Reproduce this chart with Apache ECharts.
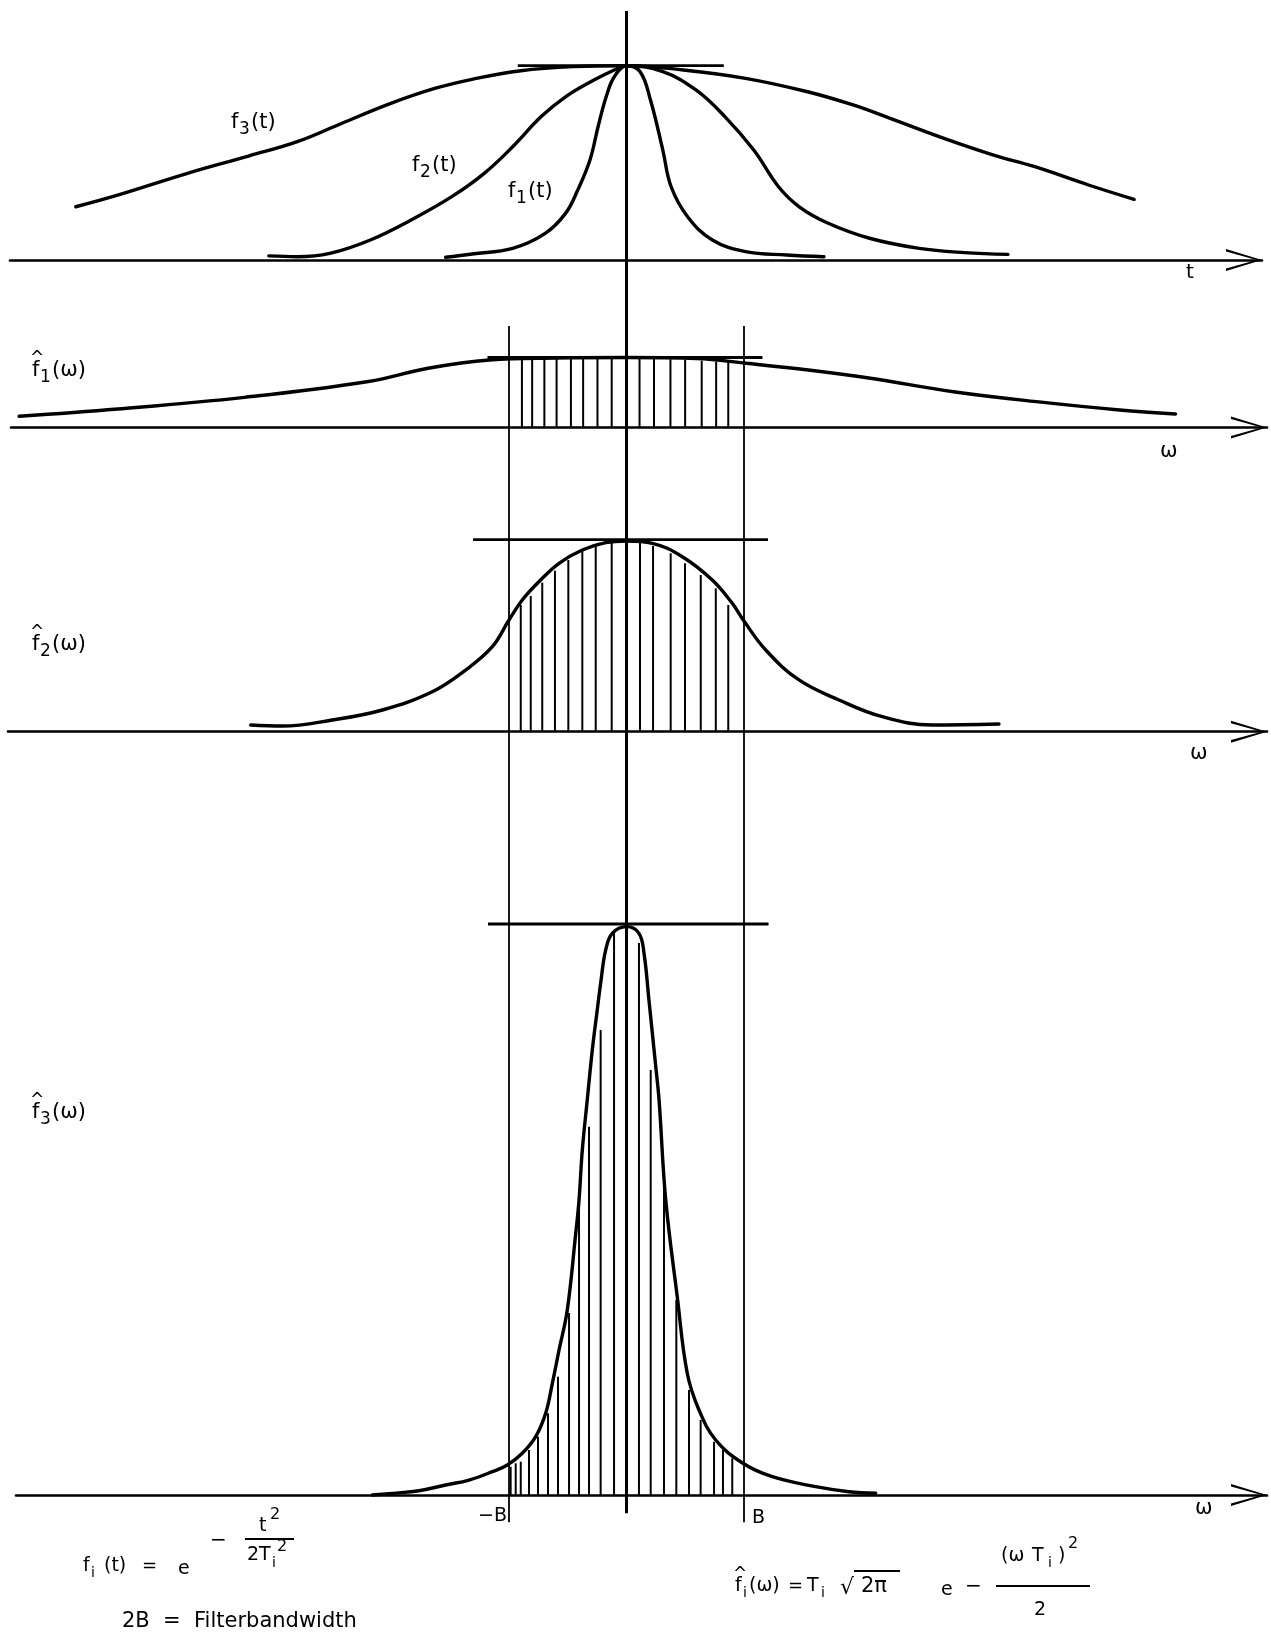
<!DOCTYPE html>
<html>
<head>
<meta charset="utf-8">
<script src="https://cdn.jsdelivr.net/npm/echarts@6/dist/echarts.min.js"></script>
<style>
  html, body { margin: 0; padding: 0; background: #ffffff; }
  #chart { width: 1271px; height: 1635px; }
</style>
</head>
<body>
<div id="chart"></div>
<script>
// ---------------------------------------------------------------
// Gaussian pulses f_i(t) (peak normalised to 1) and their spectra
// f^_i(w) = T_i*sqrt(2*pi)*exp(-(w*T_i)^2/2), x in units of B.
// ---------------------------------------------------------------

// time-domain pulses [t, f(t)]
const f1t = [[-1.539,0.014],[-1.314,0.031],[-0.969,0.060],[-0.692,0.137],[-0.519,0.240],[-0.415,0.360],
  [-0.311,0.515],[-0.242,0.686],[-0.173,0.840],[-0.104,0.943],[0,1.0],[0.116,0.969],[0.204,0.823],
  [0.309,0.566],[0.380,0.377],[0.520,0.223],[0.731,0.103],[1.013,0.043],[1.364,0.026],[1.681,0.017]];
const f2t = [[-3.044,0.021],[-2.802,0.017],[-2.525,0.034],[-2.180,0.103],[-1.833,0.206],[-1.487,0.326],
  [-1.211,0.446],[-0.969,0.583],[-0.726,0.738],[-0.519,0.840],[-0.277,0.926],[-0.104,0.978],[0,1.0],
  [0.309,0.969],[0.591,0.875],[0.837,0.738],[1.083,0.566],[1.294,0.377],[1.470,0.274],[1.717,0.189],
  [2.068,0.112],[2.491,0.060],[2.877,0.038],[3.246,0.029]];
const f3t = [[-4.687,0.274],[-4.324,0.335],[-3.736,0.446],[-3.217,0.535],[-2.802,0.609],[-2.421,0.704],
  [-2.006,0.806],[-1.625,0.884],[-1.314,0.930],[-0.899,0.974],[-0.450,0.995],[0,1.0],[0.483,0.978],
  [1.013,0.935],[1.541,0.866],[1.928,0.798],[2.244,0.729],[2.702,0.626],[3.124,0.540],[3.475,0.480],
  [3.932,0.386],[4.320,0.312]];

// spectra [w, f^(w)], amplitude in units of the f^_1 peak
const f1w = [[-5.169,0.160],[-4.329,0.264],[-3.252,0.431],[-2.210,0.654],[-1.689,0.846],[-1.168,0.964],
  [-0.600,0.993],[0,1.0],[0.600,0.985],[1.017,0.917],[1.547,0.821],[2.077,0.703],[2.783,0.511],
  [3.489,0.369],[4.196,0.250],[4.672,0.193]];
const f2w = [[-3.198,0.096],[-2.929,0.081],[-2.504,0.167],[-2.078,0.310],[-1.653,0.571],[-1.369,0.881],
  [-1.142,1.214],[-1.000,1.596],[-0.887,1.881],[-0.745,2.143],[-0.574,2.406],[-0.376,2.596],[-0.177,2.700],
  [0,2.724],[0.220,2.691],[0.475,2.500],[0.730,2.167],[0.900,1.834],[0.994,1.596],[1.185,1.167],
  [1.468,0.739],[1.809,0.453],[2.177,0.214],[2.603,0.096],[3.170,0.110]];
const f3w = [[-2.163,0.0],[-1.993,0.024],[-1.766,0.061],[-1.539,0.143],[-1.340,0.214],[-1.142,0.333],
  [-1.014,0.429],[-0.887,0.596],[-0.773,0.833],[-0.688,1.167],[-0.631,1.596],[-0.574,2.071],[-0.504,2.643],
  [-0.432,3.739],[-0.404,4.214],[-0.376,4.929],[-0.334,5.643],[-0.291,6.357],[-0.249,6.929],[-0.220,7.310],
  [-0.177,7.786],[-0.121,8.024],[0,8.119],[0.106,8.024],[0.149,7.739],[0.191,7.071],[0.220,6.596],
  [0.249,6.119],[0.277,5.643],[0.334,4.214],[0.432,2.833],[0.517,1.739],[0.617,1.214],[0.759,0.786],
  [0.991,0.453],[1.241,0.261],[1.610,0.119],[1.894,0.047],[2.121,0.024]];

// hatching inside the pass band -B..B: [w, height]
const hatch1 = [[-0.890,0.965],[-0.803,0.970],[-0.699,0.975],[-0.595,0.980],[-0.473,0.985],[-0.369,0.990],
  [-0.247,0.990],[-0.126,0.995],[0.111,0.990],[0.234,0.985],[0.374,0.975],[0.499,0.965],[0.640,0.955],
  [0.763,0.940],[0.866,0.930]];
const hatch2 = [[-0.900,1.810],[-0.815,1.939],[-0.717,2.129],[-0.609,2.300],[-0.495,2.453],[-0.376,2.586],
  [-0.262,2.667],[-0.126,2.714],[0.115,2.706],[0.226,2.653],[0.376,2.549],[0.498,2.406],[0.632,2.239],
  [0.760,2.049],[0.866,1.810]];
const hatch3 = [[-0.986,0.404],[-0.943,0.453],[-0.900,0.476],[-0.830,0.643],[-0.753,0.833],[-0.668,1.167],
  [-0.583,1.690],[-0.489,2.600],[-0.404,4.200],[-0.319,5.260],[-0.220,6.643],[-0.106,8.030],[0.106,7.886],
  [0.206,6.070],[0.319,4.430],[0.424,2.786],[0.532,1.500],[0.631,1.071],[0.745,0.761],[0.821,0.643],
  [0.900,0.524]];

// horizontal tangents through each maximum: [from, to, level]
const tangentT = [-0.925, 0.828, 1.0];
const tangent1 = [-1.183, 1.157, 1.0];
const tangent2 = [-1.306, 1.204, 2.745];
const tangent3 = [-1.179, 1.209, 8.157];

// vertical guides (in f^_3 amplitude units): band edges -B, B and the ordinate
const bandEdges = [-1, 1];
const guideCenter = [21.2, -0.26];
const guideEdge = [16.7, -0.39];

// ---------------------------------------------------------------
// layout: common horizontal scale for all four strips
// ---------------------------------------------------------------
const X0 = 626.5, XS = 117.5;               // pixel of x = 0, pixels per unit B
const strips = [
  { axis: 260,   unit: 194.3, ymax: 1.2, left: 10, tip: 1262 },
  { axis: 427.5, unit: 70,    ymax: 1.5, left: 11, tip: 1267 },
  { axis: 731.7, unit: 70,    ymax: 3.0, left: 8,  tip: 1267 },
  { axis: 1495,  unit: 70,    ymax: 8.6, left: 16, tip: 1267 }
];
const ARROW = 'path://M11,0 L22,36 L19.4,36 L11,5.5 L2.6,36 L0,36 Z';

const grids = [], xAxes = [], yAxes = [];
strips.forEach(function (s) {
  grids.push({ left: s.left, width: s.tip - s.left, top: s.axis - s.unit * s.ymax,
               height: s.unit * s.ymax, containLabel: false, outerBoundsMode: 'none' });
  xAxes.push({
    type: 'value', gridIndex: grids.length - 1,
    min: (s.left - X0) / XS, max: (s.tip - X0) / XS,
    axisLine: { show: true, onZero: false, symbol: ['none', ARROW], symbolSize: [22, 36],
                symbolOffset: [0, -18], lineStyle: { color: '#000', width: 2.6 } },
    axisTick: { show: false }, axisLabel: { show: false }, splitLine: { show: false }
  });
  yAxes.push({ type: 'value', gridIndex: grids.length - 1, min: 0, max: s.ymax, show: false });
});

const ink = '#000';
function curve(data, i, w) {
  return { type: 'line', xAxisIndex: i, yAxisIndex: i, data: data, smooth: 0.4,
           symbol: 'none', clip: false, z: 5, silent: true,
           lineStyle: { color: ink, width: w || 3.4, cap: 'round', join: 'round' } };
}
function seg(p, q, i, w) {
  return { type: 'line', xAxisIndex: i, yAxisIndex: i, data: [p, q], symbol: 'none', clip: false,
           z: 4, silent: true, lineStyle: { color: ink, width: w } };
}
function hatch(data, i) {
  return { type: 'bar', xAxisIndex: i, yAxisIndex: i, data: data, barWidth: 2, z: 3, silent: true,
           itemStyle: { color: ink } };
}
function tangent(t, i) { return seg([t[0], t[2]], [t[1], t[2]], i, 2.8); }

const series = [
  curve(f1t, 0), curve(f2t, 0), curve(f3t, 0), tangent(tangentT, 0),
  curve(f1w, 1), hatch(hatch1, 1), tangent(tangent1, 1),
  curve(f2w, 2), hatch(hatch2, 2), tangent(tangent2, 2),
  curve(f3w, 3), hatch(hatch3, 3), tangent(tangent3, 3),
  seg([0, guideCenter[0]], [0, guideCenter[1]], 3, 3),
  seg([bandEdges[0], guideEdge[0]], [bandEdges[0], guideEdge[1]], 3, 1.8),
  seg([bandEdges[1], guideEdge[0]], [bandEdges[1], guideEdge[1]], 3, 1.8)
];

// ---------------------------------------------------------------
// text
// ---------------------------------------------------------------
const FONT = '"DejaVu Sans", "Liberation Sans", sans-serif';
function t(x, y, s, size) {
  return { type: 'text', x: x, y: y, silent: true, z: 10,
           style: { text: s, font: size + 'px ' + FONT, fill: ink, align: 'left', verticalAlign: 'middle' } };
}
function rule(x1, x2, y, w) {
  return { type: 'line', silent: true, z: 10, shape: { x1: x1, y1: y, x2: x2, y2: y },
           style: { stroke: ink, lineWidth: w || 1.8 } };
}
// f with subscript and argument, optional hat
function fname(x, y, sub, arg, hat) {
  const out = [t(x, y, 'f', 21), t(x + 8, y + 7, sub, 17), t(x + 20, y, arg, 21)];
  if (hat) out.push(t(x - 2, y - 12, '^', 17));
  return out;
}

const texts = [].concat(
  fname(231, 123, '3', '(t)'),
  fname(412, 166, '2', '(t)'),
  fname(508, 192, '1', '(t)'),
  fname(32, 371, '1', '(\u03c9)', true),
  fname(32, 645, '2', '(\u03c9)', true),
  fname(32, 1113, '3', '(\u03c9)', true),
  [
    t(1186, 273, 't', 20),
    t(1160, 452, '\u03c9', 21),
    t(1190, 754, '\u03c9', 21),
    t(1195, 1509, '\u03c9', 21),
    t(478, 1516, '\u2212B', 19),
    t(752, 1518, 'B', 19),
    // f_i(t) = exp(-t^2 / 2T_i^2)
    t(83, 1566, 'f', 19), t(91, 1573, 'i', 14), t(104, 1566, '(t)', 19),
    t(142, 1566, '=', 18), t(178, 1569, 'e', 19),
    t(210, 1541, '\u2212', 20), rule(245, 294, 1539),
    t(259, 1526, 't', 19), t(270, 1515, '2', 16),
    t(247, 1555, '2T', 19), t(272, 1563, 'i', 14), t(277, 1547, '2', 16),
    t(122, 1622, '2B  =  Filterbandwidth', 21),
    // f^_i(w) = T_i sqrt(2 pi) exp(-(w T_i)^2 / 2)
    t(733, 1575, '^', 17), t(735, 1586, 'f', 19), t(743, 1593, 'i', 14), t(749, 1586, '(\u03c9)', 19),
    t(788, 1586, '=', 18), t(807, 1586, 'T', 19), t(821, 1593, 'i', 14),
    t(840, 1588, '\u221a', 22), rule(854, 900, 1571, 1.8), t(861, 1587, '2\u03c0', 21),
    t(941, 1590, 'e', 19),
    t(965, 1587, '\u2212', 20), rule(996, 1090, 1586),
    t(1001, 1556, '(\u03c9', 19), t(1032, 1556, 'T', 19), t(1048, 1563, 'i', 14),
    t(1058, 1556, ')', 19), t(1068, 1544, '2', 16),
    t(1034, 1610, '2', 19)
  ]
);

const chart = echarts.init(document.getElementById('chart'), null, { renderer: 'canvas' });
chart.setOption({
  backgroundColor: '#ffffff',
  animation: false,
  grid: grids, xAxis: xAxes, yAxis: yAxes,
  series: series,
  graphic: texts
});
</script>
</body>
</html>
